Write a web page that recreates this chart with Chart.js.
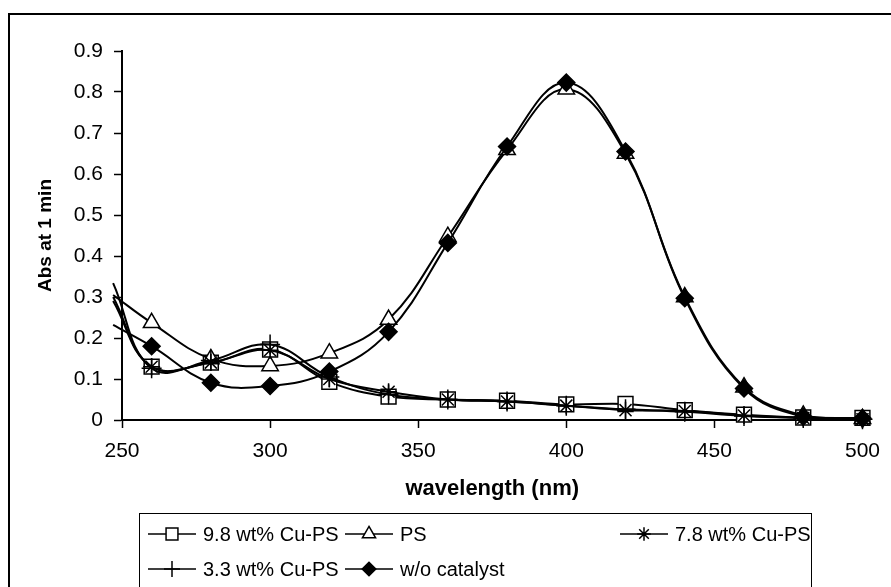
<!DOCTYPE html>
<html>
<head>
<meta charset="utf-8">
<script src="https://cdn.jsdelivr.net/npm/chart.js@4/dist/chart.umd.min.js"></script>
<style>
  html, body { margin: 0; padding: 0; background: #fff; overflow: hidden; }
  #wrap { position: absolute; left: 0; top: 0; width: 891px; height: 587px; }
</style>
</head>
<body>
<div id="wrap"><canvas id="chart" width="891" height="587"></canvas></div>
<script>
// wavelength (nm); the first value is where the curves enter from the left, no marker there
const wavelengths = [247, 260, 280, 300, 320, 340, 360, 380, 400, 420, 440, 460, 480, 500];

const cu98 = [0.30, 0.13, 0.14, 0.172, 0.093, 0.057, 0.05, 0.047, 0.038, 0.039, 0.024, 0.013, 0.006, 0.005];
const ps = [0.305, 0.237, 0.149, 0.132, 0.163, 0.245, 0.447, 0.659, 0.807, 0.65, 0.30, 0.08, 0.011, 0.003];
const cu78 = [0.29, 0.13, 0.14, 0.17, 0.10, 0.069, 0.05, 0.045, 0.035, 0.024, 0.022, 0.011, 0.005, 0.002];
const cu33 = [0.334, 0.126, 0.145, 0.184, 0.105, 0.062, 0.05, 0.045, 0.035, 0.026, 0.02, 0.01, 0.005, 0.002];
const noCatalyst = [0.232, 0.18, 0.091, 0.083, 0.118, 0.215, 0.432, 0.667, 0.823, 0.655, 0.297, 0.077, 0.008, 0.004];

const seriesLabels = ["9.8 wt% Cu-PS", "PS", "7.8 wt% Cu-PS", "3.3 wt% Cu-PS", "w/o catalyst"];
const xTicks = [250, 300, 350, 400, 450, 500];
const yTicks = [0, 0.1, 0.2, 0.3, 0.4, 0.5, 0.6, 0.7, 0.8, 0.9];

const tickFont = { family: '"Liberation Sans", Arial, sans-serif', size: 21 };
const xTitleFont = { family: '"Liberation Sans", Arial, sans-serif', size: 22, weight: "bold" };
const yTitleFont = { family: '"Liberation Sans", Arial, sans-serif', size: 19, weight: "bold" };
const legendFont = '20px "Liberation Sans", Arial, sans-serif';

// marker look per series, same order as seriesLabels
const markers = [
  { style: "rect", r: 10.5, fill: "#fff" },
  { style: "triangle", r: 9.5, fill: "#fff" },
  { style: "star", r: 8.5, fill: "#000" },
  { style: "cross", r: 10, fill: "#000" },
  { style: "rectRot", r: 8.5, fill: "#000" },
];

const seriesData = [cu98, ps, cu78, cu33, noCatalyst];

function drawMarker(ctx, m, x, y, r) {
  ctx.save();
  ctx.fillStyle = m.fill;
  ctx.strokeStyle = "#000";
  ctx.lineWidth = 1.5;
  Chart.helpers.drawPoint(ctx, { pointStyle: m.style, radius: r, rotation: 0, borderWidth: 1.5 }, x, y);
  ctx.restore();
}

// outer frame + Excel-style legend box with fixed columns
const frameAndLegend = {
  id: "frameAndLegend",
  beforeDraw(chart) {
    const ctx = chart.ctx;
    ctx.save();
    ctx.fillStyle = "#fff";
    ctx.fillRect(0, 0, chart.width, chart.height);
    ctx.strokeStyle = "#000";
    ctx.lineWidth = 2;
    ctx.strokeRect(9, 14, 900, 600);
    ctx.restore();
  },
  afterDraw(chart) {
    const ctx = chart.ctx;
    ctx.save();
    ctx.strokeStyle = "#000";
    ctx.lineWidth = 1;
    ctx.strokeRect(139.5, 513.5, 672, 90);
    const slots = [
      { x: 148, y: 534 },
      { x: 345, y: 534 },
      { x: 620, y: 534 },
      { x: 148, y: 569 },
      { x: 345, y: 569 },
    ];
    ctx.font = legendFont;
    ctx.textBaseline = "middle";
    ctx.fillStyle = "#000";
    slots.forEach((s, i) => {
      ctx.beginPath();
      ctx.lineWidth = 1.5;
      ctx.moveTo(s.x, s.y);
      ctx.lineTo(s.x + 48, s.y);
      ctx.stroke();
      drawMarker(ctx, markers[i], s.x + 24, s.y, markers[i].r * 0.8);
      ctx.fillStyle = "#000";
      ctx.fillText(seriesLabels[i], s.x + 55, s.y + 1);
    });
    ctx.restore();
  },
};

const n = seriesData.length;
new Chart(document.getElementById("chart"), {
  type: "line",
  data: {
    datasets: seriesData.map((vals, i) => ({
      label: seriesLabels[i],
      data: wavelengths.map((w, j) => ({ x: w, y: vals[j] })),
      borderColor: "#000",
      borderWidth: 2,
      tension: 0.4,
      fill: false,
      clip: false,
      order: n - i,
      pointStyle: markers[i].style,
      pointRadius: (c) => (c.dataIndex === 0 ? 0 : markers[i].r),
      pointBackgroundColor: markers[i].fill,
      pointBorderColor: "#000",
      pointBorderWidth: 1.5,
    })),
  },
  options: {
    responsive: false,
    animation: false,
    devicePixelRatio: 1,
    layout: { padding: { top: 51, right: 19, left: 0, bottom: 0 } },
    plugins: {
      legend: { display: false },
      tooltip: { enabled: false },
    },
    scales: {
      x: {
        type: "linear",
        min: 250,
        max: 500,
        afterBuildTicks: (s) => { s.ticks = xTicks.map((v) => ({ value: v })); },
        afterFit: (s) => { s.height = 167; },
        ticks: { font: tickFont, color: "#000", padding: 11, maxRotation: 0 },
        grid: { drawOnChartArea: false, drawTicks: true, tickLength: 8, tickColor: "#000", tickWidth: 1.5 },
        border: { color: "#000", width: 2 },
        title: { display: true, text: "wavelength (nm)", font: xTitleFont, color: "#000", padding: { top: 0, bottom: 85 } },
      },
      y: {
        min: 0,
        max: 0.9,
        afterBuildTicks: (s) => { s.ticks = yTicks.map((v) => ({ value: v })); },
        afterFit: (s) => { s.width = 122; },
        ticks: { font: tickFont, color: "#000", padding: 11, callback: (v) => String(+v.toFixed(1)) },
        grid: { drawOnChartArea: false, drawTicks: true, tickLength: 8, tickColor: "#000", tickWidth: 1.5 },
        border: { color: "#000", width: 2 },
        title: { display: true, text: "Abs at 1 min", font: yTitleFont, color: "#000", padding: { top: 34, bottom: 0 } },
      },
    },
  },
  plugins: [frameAndLegend],
});
</script>
</body>
</html>
